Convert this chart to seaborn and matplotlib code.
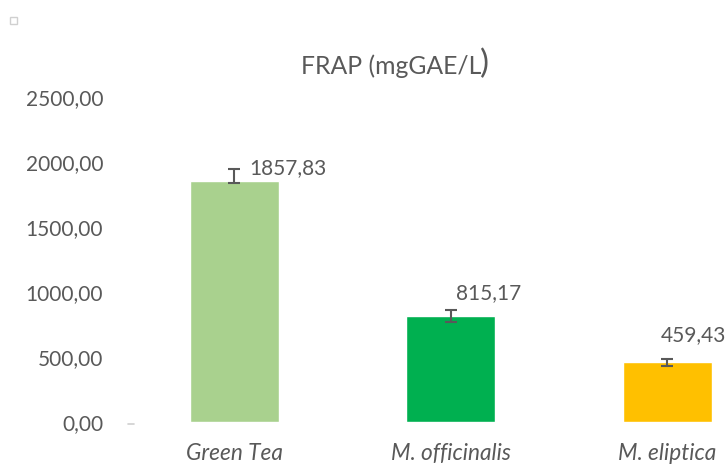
import matplotlib
matplotlib.use("Agg")
import matplotlib.pyplot as plt
from matplotlib.patches import Rectangle
import seaborn as sns
import pandas as pd
import numpy as np

# data
samples = ["Green Tea", "M. officinalis", "M. eliptica"]
frap = [1857.83, 815.17, 459.43]
err_low = [15, 45, 28]
err_high = [90, 45, 28]
bar_colors = ["#A9D18E", "#00B050", "#FFC000"]
y_ticks = [0, 500, 1000, 1500, 2000, 2500]

df = pd.DataFrame({"sample": samples, "frap": frap})

sns.set_theme(style="white")
plt.rcParams["font.family"] = ["Lato", "DejaVu Sans"]
text_gray = "#595959"

fig = plt.figure(figsize=(7.27, 4.65), dpi=100)
ax = fig.add_axes([126 / 727, (465 - 422) / 465, 649.5 / 727, (422 - 97.3) / 465])

sns.barplot(data=df, x="sample", y="frap", hue="sample", palette=bar_colors,
            width=0.41, errorbar=None, legend=False, ax=ax, saturation=1)
ax.errorbar(np.arange(len(samples)), frap, yerr=[err_low, err_high], fmt="none",
            ecolor="#595959", elinewidth=1.5, capsize=4.5, capthick=1.5)

ax.set_xlim(-0.5, 2.5)
ax.set_ylim(0, 2500)
ax.set_yticks(y_ticks)
ax.set_yticklabels([f"{v:.2f}".replace(".", ",") for v in y_ticks])
ax.tick_params(axis="y", labelsize=15, colors=text_gray, pad=16.5, length=0)
ax.tick_params(axis="x", labelsize=16.3, colors=text_gray, pad=15, length=0)
for lbl in ax.get_xticklabels():
    lbl.set_style("italic")
ax.set_xlabel("")
ax.set_ylabel("")
for s in ax.spines.values():
    s.set_visible(False)

# small tick at the origin
ax.plot([-0.49, -0.465], [-15, -15], color="#D0D0D0", lw=1.2, clip_on=False)

# value labels
offsets = [(0.25, 95), (0.175, 175), (0.12, 210)]
for i, (v, (dx, dy)) in enumerate(zip(frap, offsets)):
    ax.text(i + dx, v + dy, f"{v:.2f}".replace(".", ","), ha="center", va="center",
            fontsize=15, color=text_gray)

# title with the odd, larger closing bracket
fig.text(481 / 727, 1 - 66 / 465, "FRAP (mgGAE/L", ha="right", va="center",
         fontsize=17.8, color=text_gray)
fig.text(480 / 727, 1 - 64 / 465, ")", ha="left", va="center",
         fontsize=24, color=text_gray)

# stray legend marker in the corner
fig.patches.append(Rectangle((10 / 727, 1 - 24 / 465), 7 / 727, 7 / 465,
                             transform=fig.transFigure, fill=False,
                             edgecolor="#D0D0D0", lw=1))

fig.savefig("out.png", dpi=100)
